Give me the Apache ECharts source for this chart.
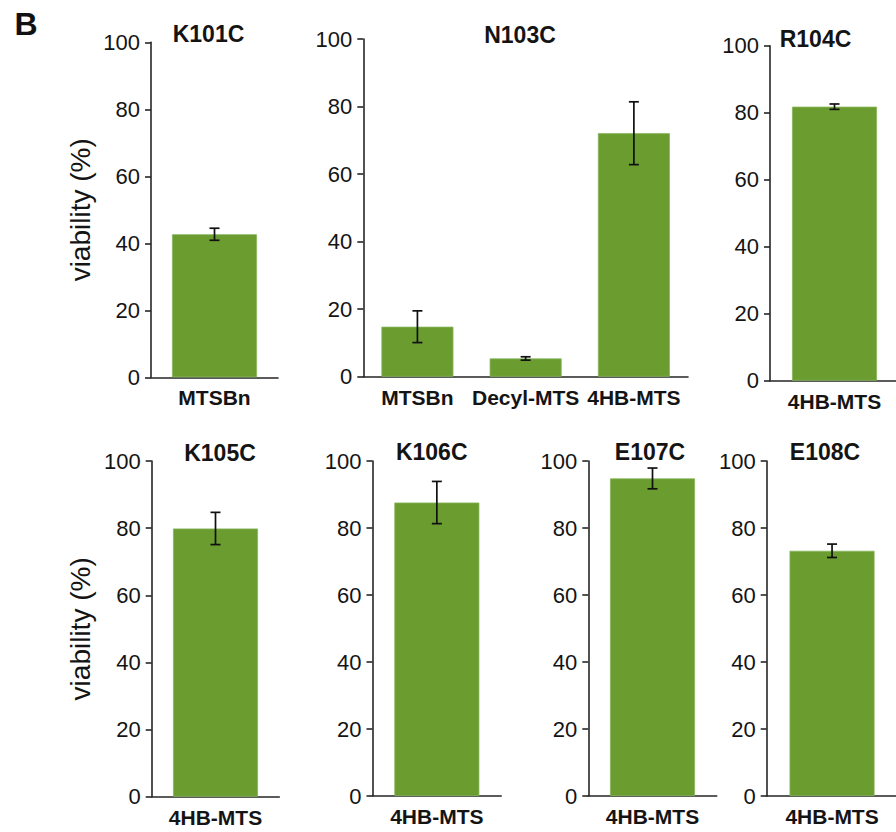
<!DOCTYPE html>
<html>
<head>
<meta charset="utf-8">
<script src="https://cdn.jsdelivr.net/npm/echarts@6/dist/echarts.min.js"></script>
<style>
  html, body { margin: 0; padding: 0; background: #fff; }
  #chart { width: 896px; height: 832px; }
</style>
</head>
<body>
<div id="chart"></div>
<script>
// Cell viability after MTS reagent treatment, per cysteine mutant
const panelTitles = ['K101C', 'N103C', 'R104C', 'K105C', 'K106C', 'E107C', 'E108C'];
const panelCategories = [
  ['MTSBn'],
  ['MTSBn', 'Decyl-MTS', '4HB-MTS'],
  ['4HB-MTS'],
  ['4HB-MTS'],
  ['4HB-MTS'],
  ['4HB-MTS'],
  ['4HB-MTS']
];
const viabilityMean = [[42.7], [14.8, 5.4, 72.1], [81.8], [79.9], [87.6], [94.8], [73.2]];
const viabilityErr = [[1.8], [4.7, 0.5, 9.3], [0.8], [4.8], [6.3], [3.1], [2.0]];
const yTickValues = [0, 20, 40, 60, 80, 100];
const yAxisTitle = 'viability (%)';
const panelLetter = 'B';

// Panel frames in pixels: [left, top, width, height]
const frames = [
  [151, 42.3, 127, 335],
  [363.3, 39, 324.7, 337.7],
  [770, 45.7, 129, 335],
  [151.7, 461, 127.6, 335.7],
  [372.5, 461, 128.7, 335],
  [588.3, 461, 128.4, 335],
  [766.7, 461, 130.7, 335]
];
const titleAnchors = [[208.5, 34], [520, 34.5], [815.5, 38.5], [220, 452.5], [431.7, 452], [650, 452], [825, 452]];
const showYName = [true, false, false, true, false, false, false];

const FONT = '"Liberation Sans", Arial, Helvetica, sans-serif';
const AXIS_COLOR = '#262626';
const TEXT_COLOR = '#141414';
const BAR_COLOR = '#6a9c30';

const grid = [], xAxis = [], yAxis = [], series = [], graphic = [];

frames.forEach((f, i) => {
  grid.push({ left: f[0], top: f[1], width: f[2], height: f[3], containLabel: false, outerBoundsMode: 'none' });
  xAxis.push({
    gridIndex: i,
    type: 'category',
    data: panelCategories[i],
    axisLine: { show: true, lineStyle: { color: AXIS_COLOR, width: 1.6 } },
    axisTick: { show: false },
    axisLabel: { interval: 0, fontFamily: FONT, fontSize: 21, fontWeight: 'bold', color: TEXT_COLOR, margin: 10 },
    splitLine: { show: false }
  });
  yAxis.push({
    gridIndex: i,
    type: 'value',
    min: yTickValues[0],
    max: yTickValues[yTickValues.length - 1],
    interval: yTickValues[1] - yTickValues[0],
    name: showYName[i] ? yAxisTitle : '',
    nameLocation: 'middle',
    nameGap: 57,
    nameTextStyle: { fontFamily: FONT, fontSize: 28, color: TEXT_COLOR },
    axisLine: { show: true, lineStyle: { color: AXIS_COLOR, width: 1.6 } },
    axisTick: { show: true, inside: false, length: 6, lineStyle: { color: AXIS_COLOR, width: 1.6 } },
    axisLabel: { fontFamily: FONT, fontSize: 22, color: TEXT_COLOR, margin: 11 },
    splitLine: { show: false }
  });
  series.push({
    type: 'bar',
    xAxisIndex: i,
    yAxisIndex: i,
    data: viabilityMean[i],
    barWidth: panelCategories[i].length > 1 ? 72 : 85,
    itemStyle: { color: BAR_COLOR, borderColor: '#86b55a', borderWidth: 0.8 },
    silent: true,
    animation: false
  });
  series.push({
    type: 'custom',
    xAxisIndex: i,
    yAxisIndex: i,
    data: viabilityMean[i].map((m, k) => [k, m, viabilityErr[i][k]]),
    renderItem: function (params, api) {
      const k = api.value(0), m = api.value(1), e = api.value(2);
      const hi = api.coord([k, m + e]);
      const lo = api.coord([k, m - e]);
      const cap = 5;
      const st = { stroke: '#101010', lineWidth: 1.7 };
      return {
        type: 'group',
        children: [
          { type: 'line', shape: { x1: hi[0], y1: hi[1], x2: lo[0], y2: lo[1] }, style: st },
          { type: 'line', shape: { x1: hi[0] - cap, y1: hi[1], x2: hi[0] + cap, y2: hi[1] }, style: st },
          { type: 'line', shape: { x1: lo[0] - cap, y1: lo[1], x2: lo[0] + cap, y2: lo[1] }, style: st }
        ]
      };
    },
    z: 5,
    silent: true,
    animation: false
  });
  graphic.push({
    type: 'text',
    x: titleAnchors[i][0],
    y: titleAnchors[i][1],
    style: {
      text: panelTitles[i],
      font: 'bold 23px ' + FONT,
      fill: TEXT_COLOR,
      textAlign: 'center',
      textVerticalAlign: 'middle',
      verticalAlign: 'middle'
    }
  });
});

graphic.push({
  type: 'text',
  x: 26,
  y: 24,
  style: {
    text: panelLetter,
    font: 'bold 32px ' + FONT,
    fill: '#111',
    textAlign: 'center',
    textVerticalAlign: 'middle',
    verticalAlign: 'middle'
  }
});

const chart = echarts.init(document.getElementById('chart'), null, { renderer: 'svg', width: 896, height: 832 });
chart.setOption({
  backgroundColor: '#ffffff',
  animation: false,
  grid: grid,
  xAxis: xAxis,
  yAxis: yAxis,
  series: series,
  graphic: graphic
});
</script>
</body>
</html>
